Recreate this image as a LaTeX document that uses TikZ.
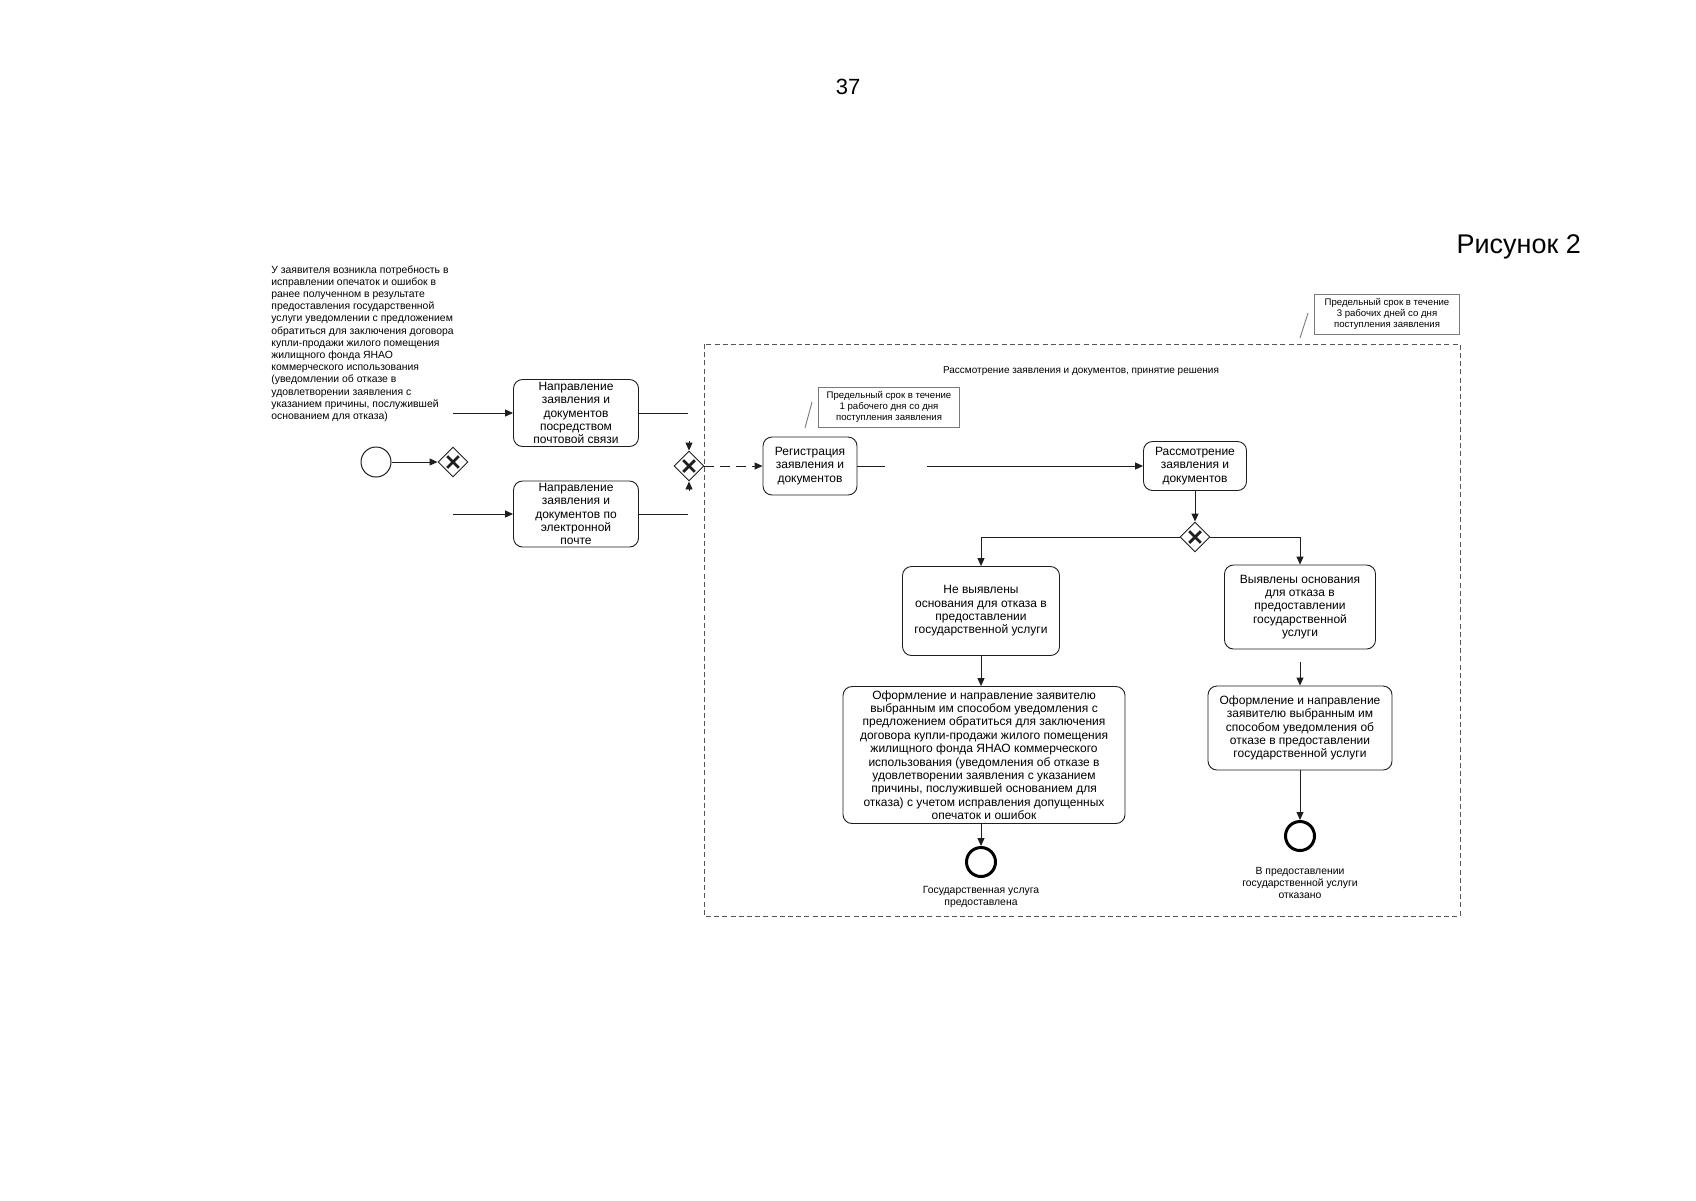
\documentclass[tikz,border=0pt]{standalone}
\usepackage{fontspec}
\setmainfont{Liberation Sans}
\usetikzlibrary{arrows.meta,shapes.geometric}
\definecolor{ink}{HTML}{1E1E1E}
\definecolor{notegray}{HTML}{7A7A7A}
\definecolor{poolgray}{HTML}{555555}

\tikzset{
  task/.style={draw=ink,line width=0.45pt,rounded corners=4.5pt,align=center,inner sep=1pt,
    font=\fontsize{6}{6.7}\selectfont},
  gate/.style={draw=ink,line width=0.45pt,diamond,minimum width=15pt,minimum height=15pt,inner sep=0pt,
    path picture={
      \draw[line width=1.4pt]
        ([shift={(-2.9pt,-2.9pt)}]path picture bounding box.center) -- ([shift={(2.9pt,2.9pt)}]path picture bounding box.center)
        ([shift={(-2.9pt,2.9pt)}]path picture bounding box.center) -- ([shift={(2.9pt,-2.9pt)}]path picture bounding box.center);}},
  startev/.style={circle,draw=ink,line width=0.5pt,minimum size=15pt,inner sep=0pt},
  endev/.style={circle,draw=black,line width=1.5pt,minimum size=14.5pt,inner sep=0pt},
  note/.style={draw=notegray,line width=0.5pt,align=center,inner sep=1pt,font=\fontsize{4.8}{5.5}\selectfont},
  caption/.style={align=center,inner sep=0pt,font=\fontsize{5.2}{6}\selectfont},
  flow/.style={draw=ink,line width=0.45pt,-{Triangle[length=4pt,width=3.5pt]}},
  plain/.style={draw=ink,line width=0.45pt},
  assoc/.style={draw=notegray,line width=0.45pt},
  pool/.style={draw=poolgray,line width=0.5pt,dash pattern=on 2.5pt off 1.6pt}
}

\begin{document}
\begin{tikzpicture}[x=0.5pt,y=-0.5pt]
  \useasboundingbox[fill=white] (0,0) rectangle (1696,1200);

  \node[font=\fontsize{11}{13}\selectfont] (pagenum) at (848,87) {37};
  \node[font=\fontsize{13.5}{15}\selectfont,anchor=east] (figlabel) at (1588,247) {Рисунок 2};

  \node[anchor=north west,align=left,inner sep=0pt,font=\fontsize{5.2}{6.1}\selectfont] (trigger) at (271,265)
    {У заявителя возникла потребность в\\исправлении опечаток и ошибок в\\ранее полученном в результате\\предоставления государственной\\услуги уведомлении с предложением\\обратиться для заключения договора\\купли-продажи жилого помещения\\жилищного фонда ЯНАО\\коммерческого использования\\(уведомлении об отказе в\\удовлетворении заявления с\\указанием причины, послужившей\\основанием для отказа)};

  \node[startev] (start) at (376,462) {};
  \node[gate] (gsplit) at (453,462) {};
  \node[task,minimum width=62.5pt,minimum height=33.5pt] (post) at (576,413)
    {Направление\\заявления и\\документов\\посредством\\почтовой связи};
  \node[task,minimum width=62.5pt,minimum height=32.5pt] (mail) at (576,514)
    {Направление\\заявления и\\документов по\\электронной\\почте};
  \node[gate] (gmerge) at (689,466) {};

  \draw[pool] (704,344) rectangle (1460,916);
  \node[font=\fontsize{5}{6}\selectfont] (pooltitle) at (1081,371)
    {Рассмотрение заявления и документов, принятие решения};

  \node[note,minimum width=70.5pt,minimum height=20pt] (noteA) at (889,407)
    {Предельный срок в течение\\1 рабочего дня со дня\\поступления заявления};
  \node[note,minimum width=72.5pt,minimum height=20pt] (noteB) at (1387,314)
    {Предельный срок в течение\\3 рабочих дней со дня\\поступления заявления};

  \node[task,minimum width=47pt,minimum height=29pt] (reg) at (810,466)
    {Регистрация\\заявления и\\документов};
  \node[task,minimum width=51.5pt,minimum height=24.5pt] (rev) at (1195,466)
    {Рассмотрение\\заявления и\\документов};
  \node[gate] (gdecide) at (1195,537) {};

  \node[task,minimum width=78.5pt,minimum height=44.5pt] (nofail) at (981,611)
    {Не выявлены\\основания для отказа в\\предоставлении\\государственной услуги};
  \node[task,minimum width=75.5pt,minimum height=42pt] (fail) at (1300,607)
    {Выявлены основания\\для отказа в\\предоставлении\\государственной\\услуги};
  \node[task,minimum width=141pt,minimum height=68.5pt] (okdoc) at (984,755)
    {Оформление и направление заявителю\\выбранным им способом уведомления с\\предложением обратиться для заключения\\договора купли-продажи жилого помещения\\жилищного фонда ЯНАО коммерческого\\использования (уведомления об отказе в\\удовлетворении заявления с указанием\\причины, послужившей основанием для\\отказа) с учетом исправления допущенных\\опечаток и ошибок};
  \node[task,minimum width=92pt,minimum height=42pt] (refdoc) at (1300,728)
    {Оформление и направление\\заявителю выбранным им\\способом уведомления об\\отказе в предоставлении\\государственной услуги};

  \node[endev] (endok) at (981,862) {};
  \node[endev] (endno) at (1300,836) {};
  \node[caption,anchor=north] (okcap) at (981,886) {Государственная услуга\\предоставлена};
  \node[caption,anchor=north] (nocap) at (1300,867) {В предоставлении\\государственной услуги\\отказано};

  \coordinate (trigA) at (453,413);
  \coordinate (trigB) at (453,514);
  \coordinate (postend) at (688,413);
  \coordinate (mailend) at (688,514);
  \coordinate (mergetop) at (689,441);
  \coordinate (mergebot) at (689,491);
  \coordinate (regend) at (885,466);
  \coordinate (revin) at (927,466);
  \coordinate (failgap) at (1300,662);
  \coordinate (noteAtail) at (812,402);
  \coordinate (noteAhead) at (805,428);
  \coordinate (noteBtail) at (1308,313);
  \coordinate (noteBhead) at (1300,338);

  \draw[flow] (trigA) -- (post);
  \draw[flow] (trigB) -- (mail);
  \draw[flow] (start) -- (gsplit);
  \draw[plain] (post) -- (postend);
  \draw[plain] (mail) -- (mailend);
  \draw[flow] (mergetop) -- (gmerge.north);
  \draw[flow] (mergebot) -- (gmerge.south);
  \draw[flow,dash pattern=on 5pt off 3pt] (gmerge) -- (reg);
  \draw[plain] (reg) -- (regend);
  \draw[flow] (revin) -- (rev);
  \draw[flow] (rev) -- (gdecide);
  \draw[flow] (gdecide.west) -| (nofail.north);
  \draw[flow] (gdecide.east) -| (fail.north);
  \draw[flow] (nofail) -- (nofail |- okdoc.north);
  \draw[flow] (failgap) -- (refdoc.north);
  \draw[flow] (okdoc.south -| endok) -- (endok);
  \draw[flow] (refdoc) -- (endno);
  \draw[assoc] (noteAtail) -- (noteAhead);
  \draw[assoc] (noteBtail) -- (noteBhead);
\end{tikzpicture}
\end{document}
